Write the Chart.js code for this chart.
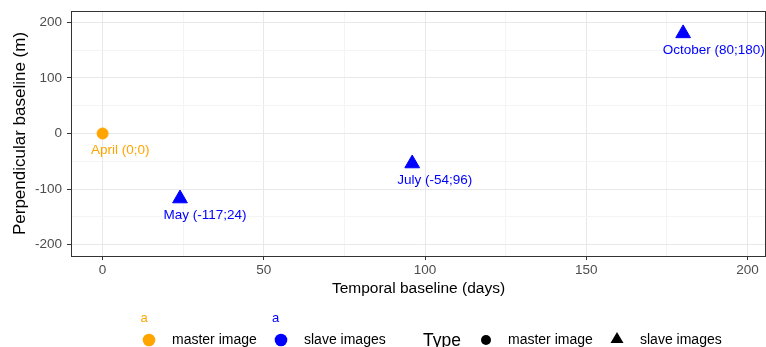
<!DOCTYPE html>
<html>
<head>
<meta charset="utf-8">
<script src="https://cdn.jsdelivr.net/npm/chart.js@4.4.1/dist/chart.umd.min.js"></script>
<style>
  html, body { margin: 0; padding: 0; background: #fff; overflow: hidden; }
  #wrap { width: 766px; height: 347px; }
  canvas { display: block; }
</style>
</head>
<body>
<div id="wrap"><canvas id="baselineChart" width="766" height="347"></canvas></div>
<script>
// acquisitions: temporal baseline (days) vs perpendicular baseline (m)
const acquisitions = ['April', 'May', 'July', 'October'];
const temporalBaseline = [0, 24, 96, 180];
const perpendicularBaseline = [0, -117, -54, 180];
const pointLabelText = ['April (0;0)', 'May (-117;24)', 'July (-54;96)', 'October (80;180)'];
const imageType = ['master image', 'slave images', 'slave images', 'slave images'];
const xTickLabels = [0, 50, 100, 150, 200];
const yTickLabels = [-200, -100, 0, 100, 200];

const FONT = '"Liberation Sans", Arial, sans-serif';
const ORANGE = '#FFA500';
const BLUE = '#0000FF';

const pointsFor = (type) => acquisitions
  .map((name, i) => ({
    x: temporalBaseline[i],
    y: perpendicularBaseline[i],
    label: pointLabelText[i],
    type: imageType[i]
  }))
  .filter(p => p.type === type);

const isMajor = (v, ticks) => ticks.includes(v);

// point labels under each mark, hjust ~0.2 like the original
const pointLabels = {
  id: 'pointLabels',
  afterDatasetsDraw(chart) {
    const ctx = chart.ctx;
    ctx.save();
    ctx.font = '13.5px ' + FONT;
    ctx.textAlign = 'left';
    ctx.textBaseline = 'middle';
    chart.data.datasets.forEach((ds, di) => {
      const meta = chart.getDatasetMeta(di);
      ctx.fillStyle = ds.backgroundColor;
      meta.data.forEach((el, i) => {
        const txt = ds.data[i].label;
        const w = ctx.measureText(txt).width;
        ctx.fillText(txt, el.x - 0.2 * w, el.y + 17);
      });
    });
    ctx.restore();
  }
};

// panel border like theme_bw
const panelBorder = {
  id: 'panelBorder',
  afterDraw(chart) {
    const { ctx, chartArea: a } = chart;
    ctx.save();
    ctx.strokeStyle = '#333333';
    ctx.lineWidth = 1;
    ctx.strokeRect(a.left + 0.5, a.top + 0.5, a.right - a.left - 1, a.bottom - a.top);
    ctx.restore();
  }
};

// ggplot style legend under the plot
const bottomLegend = {
  id: 'bottomLegend',
  afterDraw(chart) {
    const ctx = chart.ctx;
    ctx.save();
    ctx.textBaseline = 'middle';
    ctx.textAlign = 'center';

    const circle = (x, y, r, c) => {
      ctx.fillStyle = c;
      ctx.beginPath();
      ctx.arc(x, y, r, 0, Math.PI * 2);
      ctx.fill();
    };

    ctx.font = '13px ' + FONT;
    ctx.fillStyle = ORANGE;
    ctx.fillText('a', 144, 318);
    ctx.fillStyle = BLUE;
    ctx.fillText('a', 275.5, 318);

    circle(149, 340, 6.3, ORANGE);
    circle(281, 340, 6.3, BLUE);

    ctx.textAlign = 'left';
    ctx.font = '14px ' + FONT;
    ctx.fillStyle = '#000';
    ctx.fillText('master image', 172, 340);
    ctx.fillText('slave images', 304, 340);

    ctx.font = '17.5px ' + FONT;
    ctx.fillText('Type', 423, 341);

    circle(486, 340, 5, '#000');
    ctx.beginPath();
    ctx.moveTo(617, 332);
    ctx.lineTo(623.5, 343);
    ctx.lineTo(610.5, 343);
    ctx.closePath();
    ctx.fill();

    ctx.font = '14px ' + FONT;
    ctx.fillText('master image', 508, 340);
    ctx.fillText('slave images', 640, 340);
    ctx.restore();
  }
};

const ctx = document.getElementById('baselineChart').getContext('2d');
new Chart(ctx, {
  type: 'scatter',
  data: {
    datasets: [{
      label: 'master image',
      data: pointsFor('master image'),
      backgroundColor: ORANGE,
      borderColor: ORANGE,
      pointStyle: 'circle',
      pointRadius: 5.5,
      pointHoverRadius: 5.5
    }, {
      label: 'slave images',
      data: pointsFor('slave images'),
      backgroundColor: BLUE,
      borderColor: BLUE,
      pointStyle: 'triangle',
      pointRadius: 8.5,
      pointHoverRadius: 8.5
    }]
  },
  options: {
    responsive: false,
    devicePixelRatio: 1,
    animation: false,
    layout: { autoPadding: false, padding: { left: 0, right: 0, top: 11, bottom: 48.7 } },
    plugins: {
      legend: { display: false },
      tooltip: { enabled: false }
    },
    scales: {
      x: {
        type: 'linear',
        min: -9.8,
        max: 205.7,
        afterFit: (scale) => {
          scale.height = 42.3;
          scale.paddingLeft = 0;
          scale.paddingRight = 0;
        },
        afterBuildTicks: (scale) => {
          scale.ticks = scale.ticks.filter(t => t.value % 25 === 0);
        },
        ticks: {
          stepSize: 25,
          includeBounds: false,
          autoSkip: false,
          maxRotation: 0,
          padding: 2,
          color: '#4d4d4d',
          font: { family: FONT, size: 13.5 },
          callback: (v) => isMajor(v, xTickLabels) ? v : ''
        },
        grid: {
          color: (c) => isMajor(c.tick.value, xTickLabels) ? '#e8e8e8' : '#f4f4f4',
          tickColor: (c) => isMajor(c.tick.value, xTickLabels) ? '#333333' : 'rgba(0,0,0,0)',
          tickLength: 4
        },
        border: { display: false },
        title: {
          display: true,
          text: 'Temporal baseline (days)',
          color: '#000',
          font: { family: FONT, size: 15.5 },
          padding: { top: 0, bottom: 0 }
        }
      },
      y: {
        type: 'linear',
        min: -220.3,
        max: 220.3,
        afterFit: (scale) => {
          scale.width = 71;
          scale.paddingTop = 0;
          scale.paddingBottom = 0;
        },
        afterBuildTicks: (scale) => {
          scale.ticks = scale.ticks.filter(t => t.value % 50 === 0);
        },
        ticks: {
          stepSize: 50,
          includeBounds: false,
          autoSkip: false,
          padding: 5,
          color: '#4d4d4d',
          font: { family: FONT, size: 13.5 },
          callback: (v) => isMajor(v, yTickLabels) ? v : ''
        },
        grid: {
          color: (c) => isMajor(c.tick.value, yTickLabels) ? '#e8e8e8' : '#f4f4f4',
          tickColor: (c) => isMajor(c.tick.value, yTickLabels) ? '#333333' : 'rgba(0,0,0,0)',
          tickLength: 4
        },
        border: { display: false },
        title: {
          display: true,
          text: 'Perpendicular baseline (m)',
          color: '#000',
          font: { family: FONT, size: 17 },
          padding: { top: 10.5, bottom: 0 }
        }
      }
    }
  },
  plugins: [pointLabels, panelBorder, bottomLegend]
});
</script>
</body>
</html>
